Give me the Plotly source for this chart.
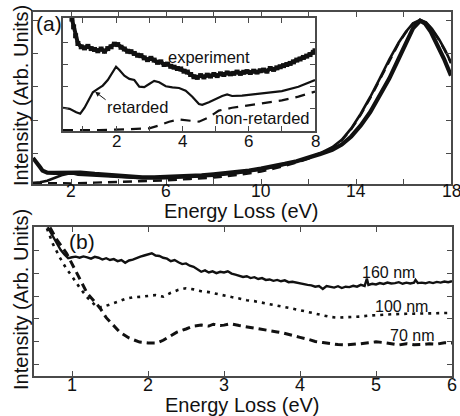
import plotly.graph_objects as go

# ---------------- Panel (a) main: 0.4-18 eV ----------------
a_exp_x = [0.4, 0.5, 0.6, 0.7, 0.8, 0.9, 1.0, 1.3, 1.6, 2.0, 2.4, 3.0, 3.5, 4.0, 4.5, 5.0, 5.5, 6.0, 6.5, 7.0, 7.5, 8.0, 8.5, 9.0, 9.5, 10.0, 10.5, 11.0, 11.5, 12.0, 12.5, 13.0, 13.4, 13.8, 14.2, 14.6, 15.0, 15.4, 15.8, 16.1, 16.4, 16.7, 16.9, 17.15, 17.4, 17.7, 18.0]
a_exp_y = [0.88, 0.8, 0.7, 0.6, 0.5, 0.46, 0.44, 0.43, 0.43, 0.46, 0.44, 0.4, 0.37, 0.35, 0.32, 0.3, 0.3, 0.31, 0.32, 0.34, 0.36, 0.39, 0.42, 0.46, 0.5, 0.56, 0.62, 0.7, 0.78, 0.88, 1.0, 1.12, 1.28, 1.52, 1.85, 2.25, 2.72, 3.25, 3.85, 4.32, 4.75, 4.98, 4.9, 4.65, 4.3, 3.85, 3.34]

a_ret_x = [0.4, 0.7, 1.0, 1.3, 1.6, 2.0, 2.3, 2.7, 3.0, 3.5, 4.0, 5.0, 6.0, 7.0, 8.0, 9.0, 10.0, 10.5, 11.0, 11.5, 12.0, 12.5, 13.0, 13.4, 13.8, 14.2, 14.6, 15.0, 15.4, 15.8, 16.1, 16.4, 16.7, 16.95, 17.2, 17.5, 17.75, 18.0]
a_ret_y = [0.13, 0.15, 0.2, 0.28, 0.36, 0.43, 0.38, 0.36, 0.35, 0.33, 0.3, 0.27, 0.27, 0.3, 0.35, 0.42, 0.53, 0.6, 0.68, 0.77, 0.88, 1.02, 1.2, 1.42, 1.76, 2.2, 2.7, 3.25, 3.82, 4.33, 4.65, 4.9, 5.0, 4.93, 4.74, 4.42, 4.1, 3.73]

a_non_x = [0.4, 1.0, 2.0, 3.0, 4.0, 5.0, 6.0, 7.0, 8.0, 9.0, 10.0, 10.5, 11.0, 11.5, 12.0, 12.5, 13.0, 13.4, 13.8, 14.2, 14.6, 15.0, 15.4, 15.8, 16.1, 16.4, 16.7, 16.95, 17.2, 17.5, 17.75, 18.0]
a_non_y = [0.13, 0.12, 0.12, 0.14, 0.16, 0.18, 0.21, 0.25, 0.29, 0.37, 0.47, 0.55, 0.64, 0.74, 0.86, 1.0, 1.18, 1.4, 1.74, 2.17, 2.67, 3.22, 3.8, 4.31, 4.63, 4.89, 4.99, 4.92, 4.72, 4.4, 4.08, 3.71]

# ---------------- Panel (a) inset: 0.4-8 eV ----------------
in_exp_x = [0.67, 0.72, 0.78, 0.85, 0.95, 1.05, 1.15, 1.25, 1.35, 1.45, 1.55, 1.65, 1.75, 1.85, 1.95, 2.05, 2.15, 2.25, 2.35, 2.45, 2.55, 2.65, 2.75, 2.85, 2.95, 3.05, 3.15, 3.25, 3.35, 3.45, 3.55, 3.65, 3.75, 3.85, 3.95, 4.05, 4.15, 4.25, 4.35, 4.45, 4.55, 4.65, 4.75, 4.85, 4.95, 5.05, 5.15, 5.25, 5.35, 5.45, 5.55, 5.65, 5.75, 5.85, 5.95, 6.05, 6.15, 6.25, 6.35, 6.45, 6.55, 6.65, 6.75, 6.85, 6.95, 7.05, 7.15, 7.25, 7.35, 7.45, 7.55, 7.65, 7.75, 7.85, 7.95, 8.0]
in_exp_y = [5.05, 4.7, 4.3, 3.95, 3.8, 3.75, 3.82, 3.72, 3.68, 3.62, 3.7, 3.6, 3.72, 3.8, 3.92, 3.9, 3.78, 3.7, 3.6, 3.58, 3.5, 3.42, 3.4, 3.3, 3.22, 3.28, 3.2, 3.1, 3.12, 3.0, 3.02, 2.92, 2.88, 2.82, 2.8, 2.7, 2.66, 2.55, 2.45, 2.42, 2.5, 2.44, 2.52, 2.48, 2.55, 2.5, 2.58, 2.55, 2.62, 2.58, 2.6, 2.66, 2.6, 2.65, 2.68, 2.64, 2.7, 2.66, 2.72, 2.75, 2.7, 2.82, 2.78, 2.85, 2.9, 2.95, 3.0, 3.05, 3.12, 3.2, 3.25, 3.32, 3.38, 3.45, 3.55, 3.62]

in_ret_x = [0.4, 0.6, 0.8, 0.92, 1.05, 1.2, 1.3, 1.45, 1.6, 1.75, 1.9, 2.0, 2.1, 2.25, 2.4, 2.55, 2.7, 2.85, 3.0, 3.15, 3.3, 3.5, 3.7, 3.9, 4.1, 4.3, 4.5, 4.6, 4.8, 5.0, 5.2, 5.35, 5.5, 5.8, 6.2, 6.6, 7.0, 7.5, 8.0]
in_ret_y = [1.05, 1.0, 0.85, 0.78, 1.05, 1.5, 1.75, 1.9, 2.05, 2.3, 2.7, 2.9, 2.75, 2.5, 2.35, 2.3, 2.0, 1.98, 2.12, 2.26, 2.2, 2.02, 1.97, 1.94, 1.82, 1.55, 1.22, 1.18, 1.3, 1.45, 1.58, 1.65, 1.58, 1.6, 1.66, 1.72, 1.8, 2.0, 2.3]

in_non_x = [0.4, 1.0, 1.5, 2.0, 2.5, 3.0, 3.3, 3.6, 3.9, 4.2, 4.5, 4.8, 5.1, 5.5, 6.0, 6.5, 7.0, 7.5, 8.0]
in_non_y = [0.04, 0.03, 0.04, 0.06, 0.08, 0.12, 0.25, 0.42, 0.52, 0.48, 0.42, 0.62, 0.92, 1.05, 1.15, 1.25, 1.38, 1.55, 1.78]

# ---------------- Panel (b): 0.5-6 eV ----------------
b160_x = [0.68, 0.72, 0.76, 0.8, 0.85, 0.9, 0.95, 1.0, 1.05, 1.1, 1.15, 1.2, 1.25, 1.3, 1.35, 1.4, 1.45, 1.5, 1.55, 1.6, 1.65, 1.7, 1.75, 1.8, 1.85, 1.9, 1.95, 2.0, 2.05, 2.1, 2.15, 2.2, 2.25, 2.3, 2.35, 2.4, 2.45, 2.5, 2.55, 2.6, 2.65, 2.7, 2.75, 2.8, 2.85, 2.9, 2.95, 3.0, 3.05, 3.1, 3.15, 3.2, 3.25, 3.3, 3.35, 3.4, 3.45, 3.5, 3.55, 3.6, 3.65, 3.7, 3.75, 3.8, 3.85, 3.9, 3.95, 4.0, 4.05, 4.1, 4.15, 4.2, 4.25, 4.3, 4.35, 4.4, 4.45, 4.5, 4.55, 4.6, 4.65, 4.7, 4.75, 4.8, 4.85, 4.88, 4.9, 4.95, 5.0, 5.05, 5.1, 5.15, 5.2, 5.25, 5.3, 5.35, 5.4, 5.45, 5.5, 5.52, 5.55, 5.6, 5.65, 5.7, 5.75, 5.8, 5.85, 5.9, 5.95, 6.0]
b160_y = [6.05, 5.8, 5.55, 5.3, 5.05, 4.85, 4.68, 4.72, 4.75, 4.7, 4.76, 4.72, 4.66, 4.74, 4.7, 4.62, 4.68, 4.6, 4.64, 4.55, 4.6, 4.48, 4.58, 4.62, 4.7, 4.75, 4.8, 4.85, 4.9, 4.8, 4.78, 4.7, 4.66, 4.55, 4.6, 4.5, 4.42, 4.45, 4.35, 4.3, 4.2, 4.08, 4.14, 4.05, 4.1, 4.02, 4.08, 4.05, 4.1, 4.0, 3.95, 3.9, 3.85, 3.88, 3.8, 3.84, 3.76, 3.8, 3.72, 3.74, 3.68, 3.72, 3.66, 3.7, 3.62, 3.64, 3.6, 3.58, 3.55, 3.5, 3.48, 3.42, 3.45, 3.32, 3.45, 3.4, 3.38, 3.44, 3.36, 3.42, 3.4, 3.46, 3.42, 3.5, 3.45, 3.78, 3.5, 3.55, 3.52, 3.58, 3.54, 3.6, 3.56, 3.58, 3.62, 3.55, 3.6, 3.56, 3.6, 3.72, 3.58, 3.6, 3.57, 3.62, 3.58, 3.63, 3.6, 3.65, 3.62, 3.66]

b100_x = [0.67, 0.75, 0.84, 0.92, 1.01, 1.1, 1.2, 1.27, 1.33, 1.4, 1.5, 1.6, 1.7, 1.8, 1.9, 2.0, 2.1, 2.2, 2.3, 2.4, 2.5, 2.6, 2.7, 2.8, 2.9, 3.0, 3.1, 3.2, 3.3, 3.4, 3.5, 3.6, 3.7, 3.8, 3.9, 4.0, 4.1, 4.2, 4.3, 4.4, 4.5, 4.6, 4.7, 4.8, 4.9, 5.0, 5.2, 5.4, 5.6, 5.8, 6.0]
b100_y = [6.0, 5.3, 4.71, 4.25, 3.83, 3.38, 2.95, 2.7, 2.51, 2.52, 2.62, 2.75, 2.88, 2.95, 2.97, 3.0, 3.05, 2.98, 3.15, 3.28, 3.35, 3.3, 3.22, 3.18, 3.1, 3.02, 2.96, 2.9, 2.82, 2.78, 2.72, 2.66, 2.6, 2.52, 2.45, 2.38, 2.3, 2.22, 2.15, 2.08, 2.05, 2.06, 2.08, 2.1, 2.14, 2.17, 2.2, 2.22, 2.24, 2.24, 2.26]

b70_x = [0.71, 0.8, 0.93, 1.0, 1.07, 1.15, 1.2, 1.3, 1.37, 1.45, 1.55, 1.63, 1.75, 1.89, 2.0, 2.12, 2.2, 2.3, 2.38, 2.5, 2.6, 2.7, 2.8, 2.86, 2.95, 3.0, 3.08, 3.2, 3.3, 3.4, 3.5, 3.6, 3.7, 3.78, 3.9, 4.0, 4.1, 4.2, 4.3, 4.4, 4.5, 4.6, 4.7, 4.8, 4.9, 5.0, 5.1, 5.2, 5.3, 5.4, 5.5, 5.6, 5.7, 5.8, 5.9, 6.0]
b70_y = [6.04, 5.5, 4.89, 4.45, 4.0, 3.45, 3.13, 2.75, 2.47, 2.05, 1.7, 1.41, 1.15, 0.97, 0.93, 0.93, 1.05, 1.25, 1.41, 1.55, 1.68, 1.72, 1.68, 1.76, 1.7, 1.72, 1.78, 1.7, 1.65, 1.59, 1.52, 1.5, 1.42, 1.37, 1.25, 1.18, 1.1, 1.0, 0.95, 0.9, 0.86, 0.84, 0.86, 0.9, 0.94, 0.98, 0.95, 0.88, 0.84, 0.9, 0.85, 0.86, 0.9, 0.88, 0.94, 0.93]

a_ticks = [2, 4, 6, 8, 10, 12, 14, 16, 18]
a_labels = [2, 6, 10, 14, 18]
in_ticks = [1, 2, 3, 4, 5, 6, 7, 8]
in_labels = [2, 4, 6, 8]
b_ticks = [1, 2, 3, 4, 5, 6]

FONT = "Liberation Sans, Arial, Helvetica, sans-serif"
W, H = 460, 416
LC = "#4a4a4a"
K = "#111111"

fig = go.Figure()

# main panel (a)
fig.add_trace(go.Scatter(x=a_non_x, y=a_non_y, mode="lines", line=dict(color=K, width=2.4, dash="9px,6px"), xaxis="x", yaxis="y"))
fig.add_trace(go.Scatter(x=a_ret_x, y=a_ret_y, mode="lines", line=dict(color=K, width=2.6), xaxis="x", yaxis="y"))
fig.add_trace(go.Scatter(x=a_exp_x, y=a_exp_y, mode="lines", line=dict(color=K, width=4.2), xaxis="x", yaxis="y"))

# inset
fig.add_trace(go.Scatter(x=in_non_x, y=in_non_y, mode="lines", line=dict(color=K, width=2.2, dash="10px,7px"), xaxis="x2", yaxis="y2"))
fig.add_trace(go.Scatter(x=in_ret_x, y=in_ret_y, mode="lines", line=dict(color=K, width=2.2), xaxis="x2", yaxis="y2"))
fig.add_trace(go.Scatter(x=in_exp_x, y=in_exp_y, mode="lines+markers", line=dict(color=K, width=4), marker=dict(color=K, size=5, symbol="square"), xaxis="x2", yaxis="y2"))

# panel (b)
fig.add_trace(go.Scatter(x=b70_x, y=b70_y, mode="lines", line=dict(color=K, width=3, dash="8px,5px"), xaxis="x3", yaxis="y3"))
fig.add_trace(go.Scatter(x=b100_x, y=b100_y, mode="lines", line=dict(color=K, width=2.6, dash="3px,5px"), xaxis="x3", yaxis="y3"))
fig.add_trace(go.Scatter(x=b160_x, y=b160_y, mode="lines", line=dict(color=K, width=2.4), xaxis="x3", yaxis="y3"))

def ax(**kw):
    base = dict(showline=True, mirror="ticks", linecolor=LC, linewidth=1.5,
                ticks="inside", ticklen=5, tickcolor=LC, tickwidth=1.2,
                showgrid=False, zeroline=False, automargin=False,
                showticklabels=False, tickmode="array")
    base.update(kw)
    return base

fig.update_layout(
    width=W, height=H, showlegend=False,
    margin=dict(l=0, r=0, t=0, b=0),
    paper_bgcolor="white", plot_bgcolor="rgba(0,0,0,0)",
    font=dict(family=FONT, color=K),
    xaxis=ax(domain=[33 / W, 451 / W], range=[0.4, 18.0], tickvals=a_ticks, anchor="y"),
    yaxis=ax(domain=[1 - 184 / H, 1 - 12 / H], range=[0.1, 5.24], tickvals=[1, 2, 3, 4, 5], anchor="x"),
    xaxis2=ax(domain=[63 / W, 315 / W], range=[0.4, 8.0], tickvals=in_ticks, anchor="y2"),
    yaxis2=ax(domain=[1 - 131 / H, 1 - 18 / H], range=[0.0, 5.1], tickvals=[1, 2, 3, 4], anchor="x2"),
    xaxis3=ax(domain=[34 / W, 452 / W], range=[0.5, 6.0], tickvals=b_ticks, anchor="y3"),
    yaxis3=ax(domain=[1 - 376 / H, 1 - 227 / H], range=[-0.53, 6.06], tickvals=[0, 1, 2, 3, 4, 5], anchor="x3"),
)

# white background for inset
fig.add_shape(type="rect", xref="paper", yref="paper", x0=63 / W, x1=315 / W, y0=1 - 131 / H, y1=1 - 18 / H,
              fillcolor="white", line=dict(width=0), layer="below")

ann = []
def txt(text, x, y, size, xref="paper", yref="paper", angle=0, xanchor="center", yanchor="middle"):
    ann.append(dict(text=text, x=x, y=y, xref=xref, yref=yref, showarrow=False, textangle=angle,
                    font=dict(family=FONT, size=size, color=K), xanchor=xanchor, yanchor=yanchor))

# tick labels (placed on the data x scale)
for v in a_labels:
    txt(str(v), v, 1 - 191 / H, 17.5, xref="x")
for v in in_labels:
    txt(str(v), v, 1 - 141 / H, 17, xref="x2")
for v in b_ticks:
    txt(str(v), v, 1 - 385 / H, 18, xref="x3")

txt("Energy Loss (eV)", 242 / W, 1 - 211 / H, 20)
txt("Energy Loss (eV)", 243 / W, 1 - 405 / H, 20)
txt("Intensity (Arb. Units)", 21 / W, 1 - 96 / H, 20, angle=-90)
txt("Intensity (Arb. Units)", 21 / W, 1 - 300 / H, 20, angle=-90)
txt("(a)", 49 / W, 1 - 23 / H, 21)
txt("(b)", 1.13, 5.42, 21, xref="x3", yref="y3")
txt("experiment", 4.8, 3.36, 16.5, xref="x2", yref="y2")
txt("retarded", 2.65, 1.09, 16.5, xref="x2", yref="y2")
txt("non-retarded", 6.4, 0.59, 16.5, xref="x2", yref="y2")
txt("160 nm", 5.16, 4.05, 16, xref="x3", yref="y3")
txt("100 nm", 5.33, 2.56, 16, xref="x3", yref="y3")
txt("70 nm", 5.47, 1.28, 16, xref="x3", yref="y3")
ann.append(dict(x=1.37, y=1.77, ax=1.73, ay=1.36, xref="x2", yref="y2", axref="x2", ayref="y2",
                text="", showarrow=True, arrowhead=2, arrowsize=1, arrowwidth=1, arrowcolor=K))
fig.update_layout(annotations=ann)

fig.write_html("out.html", config={"displayModeBar": False},
               post_script="document.body.style.margin='0';document.body.style.overflow='hidden';")
